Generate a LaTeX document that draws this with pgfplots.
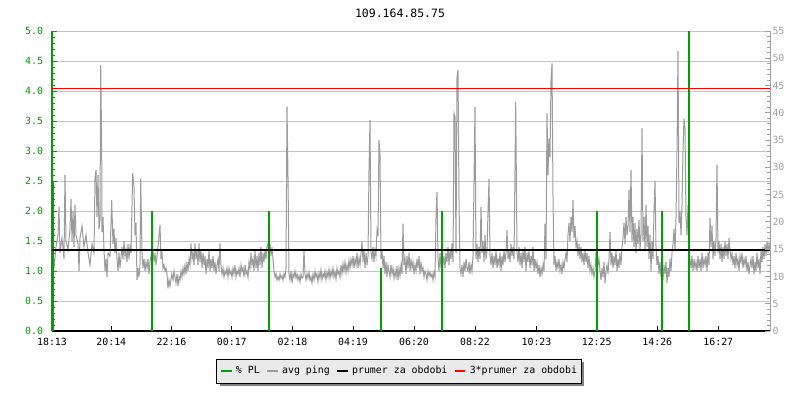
\documentclass[border=0pt]{standalone}
\usepackage{fontspec}
\setmainfont{DejaVu Sans Mono}
\usepackage{pgfplots}
\pgfplotsset{compat=1.18}
\usepackage{pgfplotstable}
\usetikzlibrary{shadows}
\definecolor{plgreen}{RGB}{0,160,0}
\definecolor{pinggray}{RGB}{155,155,155}
\definecolor{gridgray}{RGB}{196,196,196}
\definecolor{rightgray}{RGB}{160,160,160}
\definecolor{legendfill}{RGB}{234,234,234}
\definecolor{shadowgray}{RGB}{128,128,128}
\newcommand\smallfont{\fontsize{9.9pt}{11pt}\selectfont}
\newcommand\titlefont{\fontsize{11.5pt}{13pt}\selectfont}
\newcommand\legkey[1]{\textcolor{#1}{\rule[1.7pt]{10.7pt}{2pt}}\hspace{4.3pt}}

\pgfplotstableread{
x y
0 1.25
2 1.05
4 1.4
6 1.6
7 2.07
8 1.3
10 1.55
12 1.2
13 2.6
14 1.5
16 1.35
18 1.7
19 2.2
20 1.5
21 2.0
22 1.4
23 2.1
24 1.6
26 1.45
27 1.0
28 1.55
30 1.75
32 1.4
34 1.6
36 1.3
38 1.1
40 1.45
42 1.3
43 2.55
44 2.68
45 1.9
46 2.6
47 1.7
48 1.85
48.7 4.43
49.7 3.07
50 1.65
51 1.9
52 1.35
53 1.0
54 1.2
55 0.9
56 1.3
58 1.25
59.7 2.18
61 1.45
62 1.7
63 1.3
64 1.55
65 1.2
66 1.0
67 1.3
68 1.05
70 1.4
71 1.2
72 1.5
73 1.25
74 1.35
75 1.15
76 1.45
77 1.2
78 1.4
79 1.3
80.7 2.63
82 2.4
83 1.6
84 1.8
85 0.85
86 1.05
87 0.9
88 1.1
88.7 2.54
90 1.3
91 1.05
92 1.2
93 1.0
94 1.15
95 1.05
96 1.2
97 0.95
98 1.15
99 1.25
100 1.1
101 1.35
102 1.15
103 1.3
104 1.1
106 1.4
108 1.77
109 1.2
110 1.3
111 1.05
112 1.1
113 1.0
114 1.05
115 0.95
116 0.71
117 0.85
118 0.75
119.7 0.95
121 0.85
122 1.0
123 0.9
124 0.8
125 0.95
126 0.75
127 0.9
128 0.85
129 1.0
130 0.9
131 1.05
132 0.95
133 1.1
134 0.95
135 1.15
136 1.0
137 1.2
138 1.1
139 1.46
140 1.2
141 1.3
142 1.1
143 1.46
144 1.2
145 1.35
146 1.1
147 1.46
148 1.15
149 1.35
150 1.05
151 1.3
152 1.1
153 1.25
154 0.95
155 1.2
156 1.05
157 1.35
158 1.0
159 1.2
160 1.05
161 1.25
162 1.0
163 1.15
164 0.95
165 1.1
166 1.2
167 1.0
168 1.46
169 1.1
170 0.95
171 1.05
172 0.9
173 1.0
174 0.95
175 1.05
176 0.9
177 1.05
178 0.95
179 1.0
180 0.9
181 1.05
182 0.95
183 1.1
184 0.9
185 1.0
186 0.95
187 1.05
188 0.9
189 1.1
190 1.0
191 1.05
192 0.9
193 1.1
194 0.95
195 1.0
196 0.9
197 1.15
198 1.05
199 1.3
200 1.1
201 1.2
202 1.0
203 1.35
204 1.05
205 1.25
206 1.0
207 1.3
208 1.1
209 1.4
210 1.05
211 1.3
212 1.15
213 1.35
214 1.2
215 1.4
216 1.46
217 1.3
218 1.45
219 1.25
220 1.4
221 1.2
222 1.0
223 0.9
224 0.95
225 0.85
226 0.9
227 0.85
228 0.95
229 0.88
230 0.92
231 0.85
232 0.95
233 0.9
234 1.05
235 3.74
236 2.57
237 0.95
238 0.85
239 1.0
240 0.8
241 0.95
242 0.9
243 1.0
244 0.88
245 0.95
246 0.85
247 0.92
248 0.82
249 0.95
250 0.88
251 0.9
252 1.35
253 0.95
254 0.85
255 0.95
256 0.88
257 0.98
258 0.85
259 0.9
260 0.8
261 0.95
262 0.85
263 1.0
264 0.9
265 0.95
266 0.82
267 0.97
268 0.88
269 1.02
270 0.85
271 0.95
272 0.9
273 1.0
274 0.85
275 0.98
276 0.9
277 1.03
278 0.88
279 1.0
280 0.92
281 1.05
282 0.9
283 0.98
284 0.87
285 1.05
286 0.95
287 1.0
288 0.9
289 1.1
290 0.95
291 1.12
292 1.0
293 1.15
294 0.98
295 1.1
296 1.0
297 1.18
298 1.05
299 1.2
300 1.1
301 1.25
302 1.05
303 1.2
304 1.1
305 1.3
306 1.05
307 1.22
308 1.1
309 1.3
310 1.49
311 1.15
312 1.35
313 1.05
314 1.3
315 1.1
316 1.25
317 2.68
318 3.52
319 1.3
320 1.2
321 1.4
322 1.15
323 1.35
324 1.25
325 1.68
326 1.58
327 3.18
328 2.93
329 1.2
330 1.35
331 1.05
332 1.25
333 0.95
334 1.15
335 0.9
336 1.1
337 1.0
338 0.9
339 1.1
340 0.95
341 1.05
342 0.88
343 1.0
344 0.9
345 1.08
346 0.85
347 1.05
348 0.92
349 1.1
350 0.95
351 1.79
352 1.1
353 1.2
354 0.95
355 1.25
356 1.05
357 1.3
358 1.0
359 1.2
360 1.05
361 1.15
362 0.95
363 1.1
364 1.0
365 1.2
366 1.05
367 1.25
368 0.95
369 1.15
370 1.0
371 1.05
372 0.9
373 1.0
374 0.95
375 0.85
376 1.0
377 0.92
378 0.98
379 0.9
380 0.95
381 0.85
382 0.98
383 0.9
384 1.9
385 2.32
386 1.2
387 1.0
388 1.3
389 1.05
390 1.35
391 1.1
392 1.25
393 1.05
394 1.3
395 1.15
396 1.4
397 1.1
398 1.35
399 1.2
400 1.46
401 1.15
402 3.63
403 3.57
404 1.3
405 4.24
406 4.35
407 2.18
408 1.05
409 0.95
410 1.1
411 0.9
412 1.15
413 1.0
414 1.2
415 1.05
416 1.0
417 1.15
418 0.95
419 1.1
420 1.0
421 1.25
422 2.46
423 3.74
424 1.2
425 1.45
426 1.15
427 1.4
428 1.2
429 2.07
430 1.3
431 1.5
432 1.15
433 1.6
434 1.2
435 1.35
436 1.99
437 2.54
438 1.25
439 1.1
440 1.3
441 1.05
442 1.25
443 1.1
444 1.35
445 1.05
446 1.2
447 1.1
448 1.3
449 1.0
450 1.25
451 1.1
452 1.35
453 1.15
454 1.3
455 1.68
456 1.2
457 1.35
458 1.15
459 1.45
460 1.25
461 1.4
462 1.2
463 2.7
463.7 3.82
465 1.3
466 1.15
467 1.4
468 1.1
469 1.3
470 1.05
471 1.35
472 1.15
473 1.4
474 1.0
475 1.3
476 1.15
477 1.35
478 1.05
479 1.25
480 1.1
481 1.4
482 1.0
483 1.2
484 1.05
485 1.15
486 0.95
487 1.1
488 0.9
489 1.05
490 0.95
491 1.1
492 1.0
493 1.79
494 1.2
495 3.63
496 2.6
497 3.21
498 2.9
499 4.18
500 4.46
501 2.24
502 1.1
503 1.25
504 1.0
505 1.15
506 1.05
507 1.2
508 1.0
509 1.1
510 0.95
511 1.15
512 1.05
513 1.2
514 1.3
515 1.15
516 1.6
517 1.8
518 1.5
519 1.9
520 1.65
521 2.18
522 1.55
523 1.75
524 1.4
525 1.5
526 1.25
527 1.45
528 1.2
529 1.4
530 1.15
531 1.3
532 1.1
533 1.35
534 1.15
535 1.3
536 1.05
537 1.25
538 1.0
539 1.1
540 0.95
541 1.05
542 0.9
543 1.0
544 1.3
545 1.4
546 1.1
547 1.2
548 1.0
549 0.85
550 1.05
551 0.9
552 1.15
553 0.8
554 1.0
555 1.1
556 0.95
557 1.2
558 1.65
559 1.1
560 1.3
561 1.05
562 1.25
563 1.1
564 1.35
565 1.0
566 1.2
567 1.05
568 1.3
569 1.1
570 1.4
571 1.55
572 1.8
573 1.45
574 1.9
575 1.6
576 1.75
577 2.35
578 1.65
579 2.68
580 1.5
581 1.9
582 1.4
583 1.8
584 1.3
585 1.7
586 1.45
587 1.85
588 1.35
589 1.6
590 3.38
591 1.5
592 1.9
593 1.35
594 2.1
595 1.4
596 1.75
597 1.2
598 1.6
599 1.0
600 1.5
601 1.2
602 2.0
603 2.5
604 1.4
605 1.1
606 1.25
607 0.95
608 1.15
609 0.9
610 1.05
611 0.85
612 1.1
613 0.95
614 1.15
615 0.8
616 1.05
617 0.9
618 1.2
619 1.0
620 1.3
621 1.45
622 1.7
623 1.35
624 1.9
625 3.0
626 4.67
627 1.8
628 2.0
629 1.6
630 2.1
631 3.0
632 3.54
633 3.38
634 1.9
635 1.6
636 2.1
637 1.5
638 1.2
639 1.05
640 1.25
641 1.0
642 1.2
643 1.05
644 1.15
645 1.0
646 1.25
647 1.05
648 1.2
649 1.0
650 1.3
651 1.05
652 1.2
653 1.1
654 1.25
655 1.0
656 1.3
657 1.1
658 1.88
659 1.4
660 1.75
661 1.2
662 1.5
663 1.25
664 1.55
665 2.77
666 1.3
667 1.5
668 1.2
669 1.45
670 1.15
671 1.4
672 1.2
673 1.5
674 1.25
675 1.45
676 1.2
677 1.55
678 1.35
679 1.2
680 1.3
681 1.1
682 1.25
683 1.05
684 1.3
685 1.1
686 1.2
687 1.0
688 1.25
689 1.15
690 1.3
691 1.05
692 1.2
693 1.1
694 1.25
695 1.0
696 1.15
697 0.95
698 1.1
699 1.2
700 1.05
701 1.25
702 0.95
703 1.15
704 1.0
705 1.3
706 1.05
707 1.2
708 0.95
709 1.35
710 1.15
711 1.4
712 1.2
713 1.45
714 1.25
715 1.5
716 1.3
717 1.45
718 1.35
}\pingdata

\pgfplotstableread{
x y
0.5 5.0
100 2.0
217 2.0
329 1.05
390 2.0
545 2.0
610 2.0
637 5.0
}\plthin

\pgfplotstableread{
x y
0.5 2.5
100 0.95
217 1.0
329 1.05
390 1.17
545 1.0
610 0.88
637 2.5
}\plthick

\begin{document}
\begin{tikzpicture}
\useasboundingbox (0pt,0pt) rectangle (800pt,400pt);
\node[font=\titlefont, inner sep=0pt] at (400pt,387pt) {109.164.85.75};
\begin{axis}[
  at={(52pt,69pt)}, anchor=south west,
  scale only axis, width=718pt, height=300pt,
  xmin=0, xmax=718, ymin=0, ymax=5,
  axis x line*=bottom, axis y line*=left,
  x axis line style={black, line width=1.2pt},
  y axis line style={plgreen, line width=1.2pt},
  xtick={0,59.3,119.5,179.8,240.5,301,362,423,484.5,544.7,605.3,666.3},
  xticklabels={18:13,20:14,22:16,00:17,02:18,04:19,06:20,08:22,10:23,12:25,14:26,16:27},
  ytick={0,0.5,...,5.0},
  minor y tick num=4,
  tick align=inside,
  major tick length=5pt, minor tick length=3pt,
  xtick style={black, line width=1pt},
  ytick style={plgreen, line width=1pt},
  ymajorgrids,
  major grid style={draw=gridgray, line width=1pt},
  /pgf/number format/assume math mode=true,
  yticklabel style={/pgf/number format/.cd, fixed, fixed zerofill, precision=1, /tikz/.cd, text=plgreen, font=\smallfont, inner sep=0pt, xshift=-8.7pt},
  xticklabel style={text=black, font=\smallfont, inner sep=0pt, yshift=-7pt},
]
\addplot[pinggray, line width=1pt] table {\pingdata};
\addplot[ycomb, draw=plgreen, line width=1.2pt] table {\plthin};
\addplot[ycomb, draw=plgreen, line width=2.5pt] table {\plthick};
\addplot[black, line width=2.5pt] coordinates {(0,1.347) (718,1.347)};
\addplot[red, line width=1.3pt] coordinates {(0,4.04) (718,4.04)};
\end{axis}
\begin{axis}[
  at={(52pt,69pt)}, anchor=south west,
  scale only axis, width=718pt, height=300pt,
  xmin=0, xmax=718, ymin=0, ymax=55,
  axis x line=none, axis y line*=right,
  y axis line style={rightgray, line width=1pt},
  ytick={0,5,...,55},
  minor y tick num=4,
  tick align=inside,
  major tick length=5pt, minor tick length=3pt,
  ytick style={rightgray, line width=1pt},
  /pgf/number format/assume math mode=true,
  yticklabel style={text=rightgray, font=\smallfont, inner sep=0pt, xshift=2.3pt},
]
\end{axis}
\node[draw=black, line width=0.8pt, fill=legendfill,
      drop shadow={shadow xshift=3pt, shadow yshift=-3pt, fill=shadowgray, opacity=1},
      inner xsep=4.4pt, inner ysep=7pt, text height=7.5pt, text depth=2.5pt,
      font=\smallfont] at (399pt,29pt)
  {\legkey{plgreen}\% PL\hspace{7.3pt}\legkey{pinggray}avg ping\hspace{7.3pt}\legkey{black}prumer za obdobi\hspace{7.3pt}\legkey{red}3*prumer za obdobi};
\end{tikzpicture}
\end{document}
